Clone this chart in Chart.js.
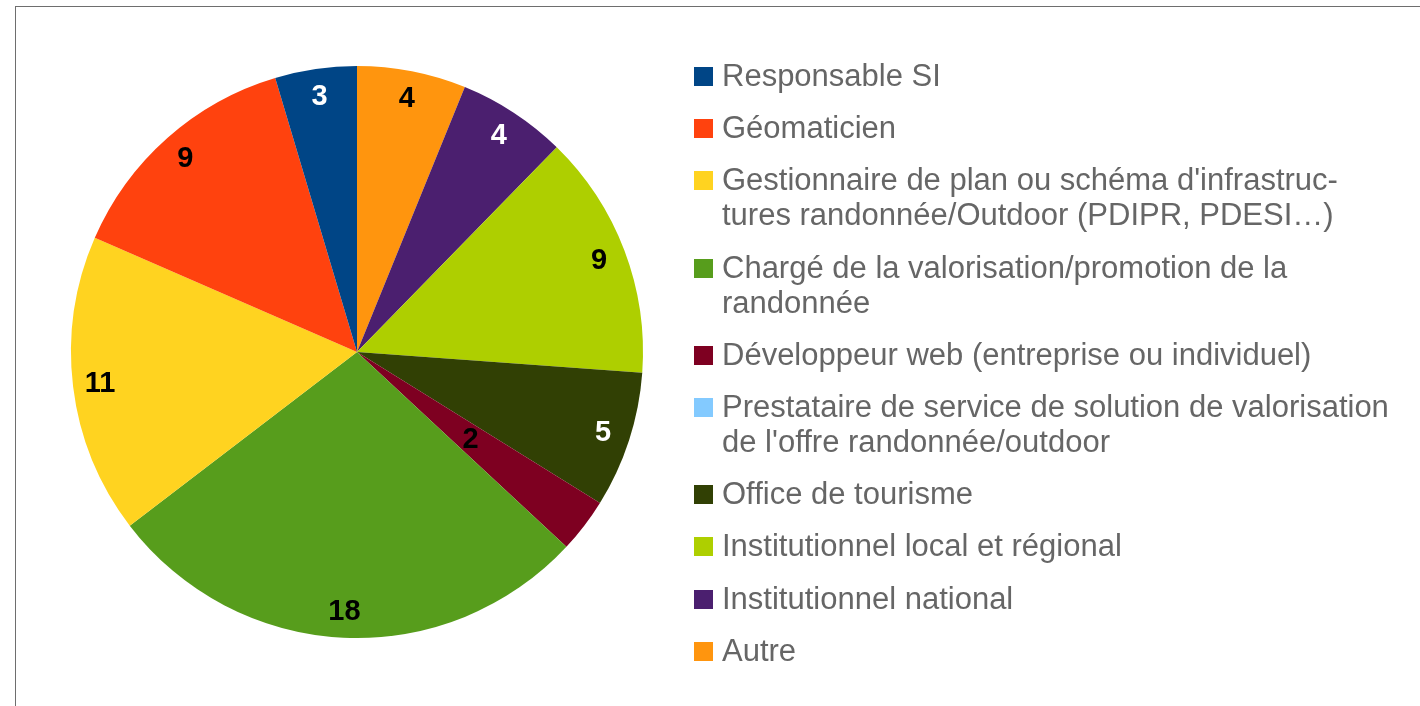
<!DOCTYPE html>
<html lang="fr">
<head>
    <meta charset="UTF-8">
    <title>Profils des répondants</title>
    <script src="https://cdn.jsdelivr.net/npm/chart.js"></script>
    <style>
        body {
            margin: 0;
            width: 1420px;
            height: 706px;
            overflow: hidden;
            background: #fff;
            font-family: "Liberation Sans", Arial, sans-serif;
            position: relative;
        }
        #frame {
            position: absolute;
            left: 15px;
            top: 6px;
            width: 1500px;
            height: 800px;
            border-left: 1px solid #6e6e6e;
            border-top: 1px solid #6e6e6e;
        }
        #pieBox {
            position: absolute;
            left: 0;
            top: 0;
            width: 714px;
            height: 706px;
        }
        #legend {
            position: absolute;
            left: 694px;
            top: 58px;
            margin: 0;
            padding: 0;
            list-style: none;
            color: #666;
            font-size: 31px;
            line-height: 35px;
        }
        #legend li {
            display: flex;
            align-items: flex-start;
            margin-bottom: 17.2px;
            white-space: nowrap;
        }
        #legend .box {
            flex: none;
            width: 19px;
            height: 19px;
            margin-top: 9px;
            margin-right: 9px;
        }
    </style>
</head>
<body>
    <div id="frame"></div>
    <div id="pieBox"><canvas id="pieChart" width="714" height="706"></canvas></div>
    <ul id="legend"></ul>

    <script>
        // legend order (LibreOffice draws the slices counter-clockwise)
        const categories = [
            'Responsable SI',
            'Géomaticien',
            ["Gestionnaire de plan ou schéma d'infrastruc-", 'tures randonnée/Outdoor (PDIPR, PDESI…)'],
            ['Chargé de la valorisation/promotion de la', 'randonnée'],
            'Développeur web (entreprise ou individuel)',
            ['Prestataire de service de solution de valorisation', "de l'offre randonnée/outdoor"],
            'Office de tourisme',
            'Institutionnel local et régional',
            'Institutionnel national',
            'Autre'
        ];
        const counts = [3, 9, 11, 18, 2, 0, 5, 9, 4, 4];
        const colors = ['#004586', '#ff420e', '#ffd320', '#579d1c', '#7e0021',
                        '#83caff', '#314004', '#aecf00', '#4b1f6f', '#ff950e'];
        const labelColors = ['#fff', '#000', '#000', '#000', '#000',
                             '#000', '#fff', '#000', '#fff', '#000'];

        // html legend
        const legend = document.getElementById('legend');
        categories.forEach((cat, i) => {
            const li = document.createElement('li');
            const box = document.createElement('span');
            box.className = 'box';
            box.style.background = colors[i];
            const txt = document.createElement('span');
            txt.innerHTML = [].concat(cat).join('<br>');
            li.appendChild(box);
            li.appendChild(txt);
            legend.appendChild(li);
        });

        // value labels on the slices
        const sliceLabels = {
            id: 'sliceLabels',
            afterDatasetsDraw(chart) {
                const ctx = chart.ctx;
                const ds = chart.data.datasets[0];
                const total = ds.data.reduce((a, b) => a + b, 0);
                ctx.save();
                ctx.font = 'bold 29px "Liberation Sans", Arial, sans-serif';
                ctx.textAlign = 'center';
                ctx.textBaseline = 'middle';
                chart.getDatasetMeta(0).data.forEach((arc, i) => {
                    const v = ds.data[i];
                    if (!v) return;
                    const p = arc.getProps(['x', 'y', 'startAngle', 'endAngle', 'outerRadius']);
                    const mid = (p.startAngle + p.endAngle) / 2;
                    const r = p.outerRadius * (v / total < 0.04 ? 0.5 : 0.905);
                    ctx.fillStyle = ds.labelColors[i];
                    ctx.fillText(String(v), p.x + Math.cos(mid) * r, p.y + Math.sin(mid) * r + 1);
                });
                ctx.restore();
            }
        };

        const rev = a => a.slice().reverse();

        new Chart(document.getElementById('pieChart'), {
            type: 'pie',
            data: {
                labels: rev(categories),
                datasets: [{
                    data: rev(counts),
                    backgroundColor: rev(colors),
                    labelColors: rev(labelColors),
                    borderWidth: 0
                }]
            },
            options: {
                responsive: false,
                animation: false,
                layout: { padding: { top: 66, bottom: 68, left: 67, right: 67 } },
                plugins: {
                    legend: { display: false },
                    tooltip: { enabled: false }
                }
            },
            plugins: [sliceLabels]
        });
    </script>
</body>
</html>
